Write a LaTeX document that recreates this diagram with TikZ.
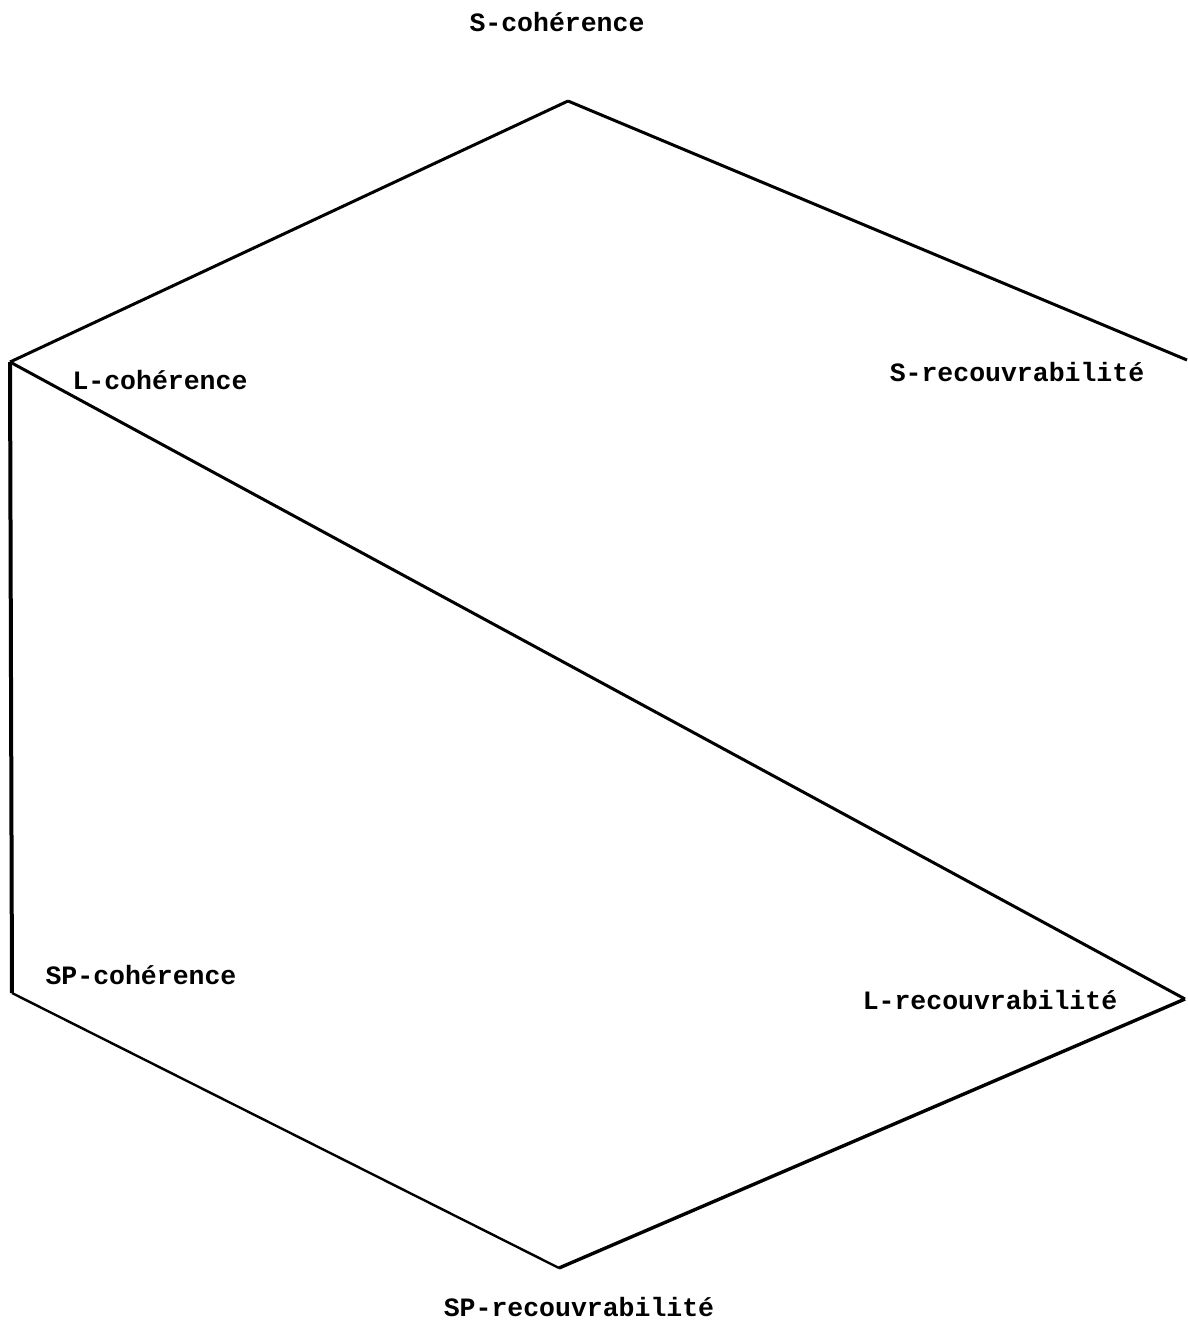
\documentclass[tikz,border=0pt]{standalone}
\usepackage{fontspec}
\setmainfont{Liberation Mono}
\usepackage{tikz}

\begin{document}
\begin{tikzpicture}[x=1pt,y=-1pt]
	\useasboundingbox (0,0) rectangle (1187,1326);
	% sommets
	\coordinate (T) at (568,101);
	\coordinate (LT) at (10,362);
	\coordinate (RT) at (1187,360);
	\coordinate (LB) at (12,993);
	\coordinate (RB) at (1185,999);
	\coordinate (B) at (559,1268);
	\draw [line width=3pt] (T) edge (LT);
	\draw [line width=3pt] (T) edge (RT);
	\draw [line width=4pt] (LT) edge (LB);
	\draw [line width=3pt] (LT) edge (RB);
	\draw [line width=2.4pt] (LB) edge (B);
	\draw [line width=3.4pt] (B) edge (RB);
	\begin{scope}[every node/.style={font=\fontsize{26.5}{30}\selectfont\bfseries,inner sep=0pt}]
	\node (sc) at (557,22) {S-cohérence};
	\node (lc) at (160,380) {L-cohérence};
	\node (sr) at (1017,372) {S-recouvrabilité};
	\node (spc) at (141,975) {SP-cohérence};
	\node (lr) at (990,1000) {L-recouvrabilité};
	\node (spr) at (579,1307) {SP-recouvrabilité};
	\end{scope}
\end{tikzpicture}
\end{document}
